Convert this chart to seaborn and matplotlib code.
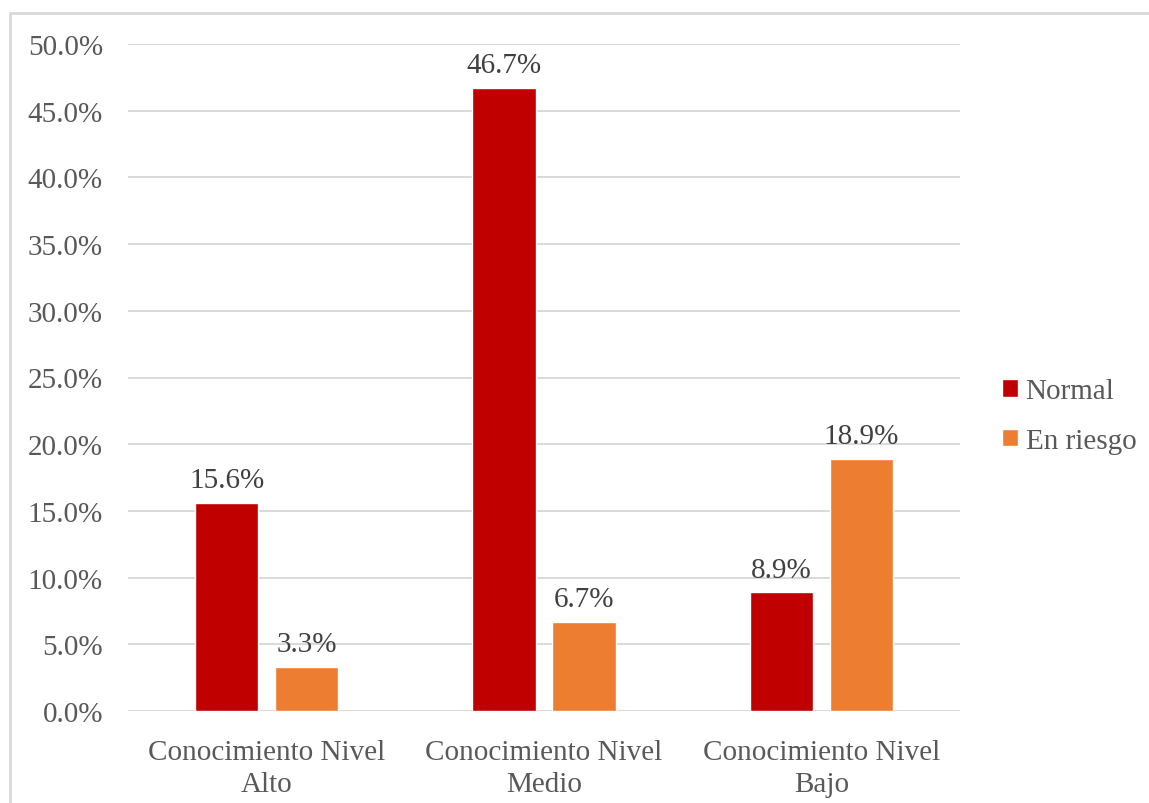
import matplotlib
matplotlib.use("Agg")
import matplotlib.pyplot as plt
from matplotlib.patches import Rectangle
import pandas as pd
import seaborn as sns

categories = ["Conocimiento Nivel\nAlto", "Conocimiento Nivel\nMedio", "Conocimiento Nivel\nBajo"]
series_names = ["Normal", "En riesgo"]
normal = [15.6, 46.7, 8.9]
en_riesgo = [3.3, 6.7, 18.9]
y_ticks = [0, 5, 10, 15, 20, 25, 30, 35, 40, 45, 50]

colors = {"Normal": "#C00000", "En riesgo": "#ED7D31"}

df = pd.DataFrame({
    "categoria": categories * 2,
    "grupo": [series_names[0]] * 3 + [series_names[1]] * 3,
    "valor": normal + en_riesgo,
})

sns.set_theme(style="white")
plt.rcParams["font.family"] = ["Liberation Serif", "DejaVu Serif"]
FS = 21

fig = plt.figure(figsize=(11.49, 8.04), dpi=100)
ax = fig.add_axes([128 / 1149, 1 - 712 / 804, (960 - 128) / 1149, (712 - 45) / 804])

# chart frame
fig.patches.append(Rectangle((9.5 / 1149, -0.1), 1.2, (804 - 13.5) / 804 + 0.1,
                             transform=fig.transFigure, fill=False,
                             edgecolor="#D9D9D9", linewidth=2, zorder=0))

ax.set_axisbelow(True)
for t in y_ticks:
    ax.axhline(t, color="#D9D9D9", linewidth=1.4, zorder=0)

sns.barplot(data=df, x="categoria", y="valor", hue="grupo", hue_order=series_names,
            palette=colors, width=0.577, gap=0.21, saturation=1, ax=ax,
            legend=True, errorbar=None, zorder=2)

for container in ax.containers:
    ax.bar_label(container, labels=[f"{v:.1f}%" for v in container.datavalues],
                 padding=7, fontsize=FS, color="#404040")

ax.set_xlim(-0.5, 2.5)
ax.set_ylim(0, 50)
ax.set_yticks(y_ticks)
ax.set_yticklabels([f"{t:.1f}%" for t in y_ticks])
ax.tick_params(axis="y", length=0, pad=18, labelsize=FS, labelcolor="#595959")
ax.tick_params(axis="x", length=0, pad=20, labelsize=FS, labelcolor="#595959")
for lbl in ax.get_xticklabels():
    lbl.set_linespacing(1.3)
ax.set_xlabel("")
ax.set_ylabel("")
for s in ax.spines.values():
    s.set_visible(False)

handles, labels = ax.get_legend_handles_labels()
ax.legend(handles, labels, loc="center left", bbox_to_anchor=(976 / 1149, 1 - 417 / 804),
          bbox_transform=fig.transFigure, frameon=False, fontsize=FS,
          handlelength=0.55, handleheight=0.55, handletextpad=0.25, labelspacing=0.8,
          labelcolor="#595959")

fig.savefig("out.png", dpi=100, facecolor="white")
